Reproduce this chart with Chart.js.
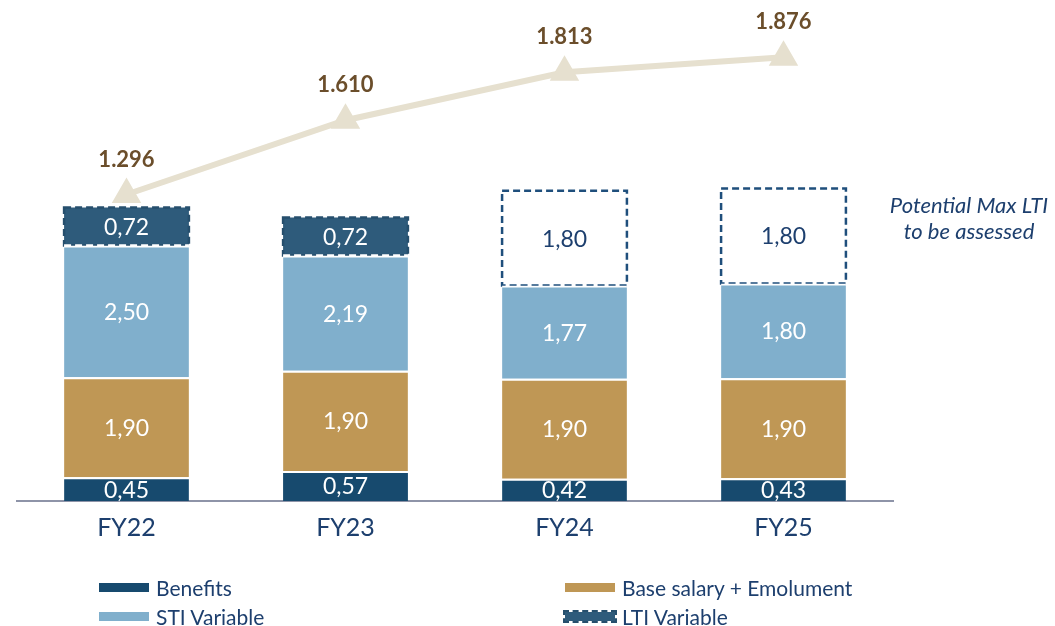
<!DOCTYPE html>
<html>
<head>
<meta charset="utf-8">
<script src="https://cdn.jsdelivr.net/npm/chart.js@4.4.1/dist/chart.umd.min.js"></script>
<style>
html,body{margin:0;padding:0;background:#fff;}
#wrap{position:relative;width:1055px;height:626px;overflow:hidden;}
#chart{position:absolute;left:0;top:0;}
.lg{position:absolute;display:flex;align-items:center;font-family:Lato,"DejaVu Sans",sans-serif;font-size:21px;color:#1d3f6e;white-space:nowrap;}
.lg i{display:inline-block;width:50px;height:9px;margin-right:7px;}
</style>
</head>
<body>
<div id="wrap">
<canvas id="chart" width="1055" height="626"></canvas>
<div id="legend"></div>
</div>
<script>
const categories = ["FY22","FY23","FY24","FY25"];
const benefits = [0.45,0.57,0.42,0.43];
const baseSalary = [1.90,1.90,1.90,1.90];
const stiVariable = [2.50,2.19,1.77,1.80];
const ltiVariable = [0.72,0.72,1.80,1.80];
const ltiPotential = [false,false,true,true];
const totalComp = [1.296,1.610,1.813,1.876];

const navy = "#1d3f6e";
const ltiFill = "#2e5b7b";
const fontFamily = "Lato, 'DejaVu Sans', sans-serif";

function comma(v){
return v.toFixed(2).replace(".",",");
}

// labels inside bars + dashed LTI boxes + note
const labelPlugin = {
id:"labels",
afterDatasetDraw(chart,args){
const ctx = chart.ctx;
const ds = chart.data.datasets[args.index];
const meta = args.meta;
ctx.save();
if(ds.type==="line"){
ctx.font = "bold 22px " + fontFamily;
ctx.fillStyle = "#6b4e2b";
ctx.textAlign = "center";
ctx.textBaseline = "middle";
meta.data.forEach((pt,i)=>{
ctx.fillText(ds.data[i].toFixed(3), pt.x, pt.y-35);
});
ctx.restore();
return;
}
meta.data.forEach((bar,i)=>{
const p = bar.getProps(["x","y","base","width"],true);
const left = p.x - p.width/2;
if(ds.label==="LTI Variable"){
ctx.setLineDash([7,4]);
ctx.lineWidth = 2.5;
ctx.strokeStyle = ltiPotential[i] ? "#1f4f7c" : "#264f6d";
ctx.strokeRect(left, p.y, p.width, p.base - p.y);
if(!ltiPotential[i]){
ctx.strokeStyle = "#fff";
ctx.beginPath();
ctx.moveTo(left, p.base);
ctx.lineTo(left+p.width, p.base);
ctx.stroke();
}
ctx.setLineDash([]);
}
ctx.font = "23px " + fontFamily;
ctx.fillStyle = (ds.label==="LTI Variable" && ltiPotential[i]) ? navy : "#fff";
ctx.textAlign = "center";
ctx.textBaseline = "middle";
ctx.fillText(comma(ds.data[i]), p.x, (p.y+p.base)/2 + 1);
});
if(ds.label==="LTI Variable"){
const last = meta.data[meta.data.length-1];
const cy = (last.y + last.base)/2;
const cx = chart.chartArea.right + 76;
ctx.font = "italic 22px " + fontFamily;
ctx.fillStyle = navy;
ctx.textAlign = "center";
ctx.fillText("Potential Max LTI", cx, cy-30);
ctx.fillText("to be assessed", cx, cy-4);
}
ctx.restore();
}
};

const chart = new Chart(document.getElementById("chart"),{
type:"bar",
data:{
labels:categories,
datasets:[
{
type:"line",
label:"Total",
data:totalComp,
yAxisID:"y2",
order:0,
borderColor:"#e6e0cf",
borderWidth:6,
pointStyle:"triangle",
pointRadius:11,
pointBackgroundColor:"#e6e0cf",
pointBorderColor:"#e6e0cf",
tension:0
},
{
label:"Benefits",
data:benefits,
backgroundColor:"#174a6e",
borderColor:"#fff",
borderWidth:{top:2},
order:1
},
{
label:"Base salary + Emolument",
data:baseSalary,
backgroundColor:"#bf9755",
borderColor:"#fff",
borderWidth:{top:2},
order:1
},
{
label:"STI Variable",
data:stiVariable,
backgroundColor:"#80afcc",
borderColor:"#fff",
borderWidth:{top:2},
order:1
},
{
label:"LTI Variable",
data:ltiVariable,
backgroundColor:ltiPotential.map(p=>p ? "rgba(0,0,0,0)" : ltiFill),
borderWidth:0,
order:1
}
]
},
options:{
responsive:false,
animation:false,
layout:{padding:{left:10,right:162,top:20,bottom:71}},
datasets:{bar:{categoryPercentage:1,barPercentage:0.57}},
plugins:{legend:{display:false},tooltip:{enabled:false}},
scales:{
x:{
stacked:true,
grid:{display:false,drawTicks:false},
border:{display:true,color:"#8e94a8",width:2},
ticks:{color:navy,font:{family:fontFamily,size:25},padding:12}
},
y:{
stacked:true,
display:false,
min:0,
max:9.13
},
y2:{
display:false,
min:0,
max:2.034
}
}
},
plugins:[labelPlugin]
});

// legend in two columns, built from the bar datasets
const legendPos = {
"Benefits":[99,575],
"Base salary + Emolument":[565,575],
"STI Variable":[99,604],
"LTI Variable":[565,604]
};
const legend = document.getElementById("legend");
chart.data.datasets.filter(d=>d.type!=="line").forEach(d=>{
const pos = legendPos[d.label];
const item = document.createElement("div");
item.className = "lg";
item.style.left = pos[0]+"px";
item.style.top = pos[1]+"px";
const box = document.createElement("i");
if(d.label==="LTI Variable"){
box.style.background = ltiFill;
box.style.outline = "2px dashed #264f6d";
}else{
box.style.background = d.backgroundColor;
}
item.appendChild(box);
item.appendChild(document.createTextNode(d.label));
legend.appendChild(item);
});
</script>
</body>
</html>
